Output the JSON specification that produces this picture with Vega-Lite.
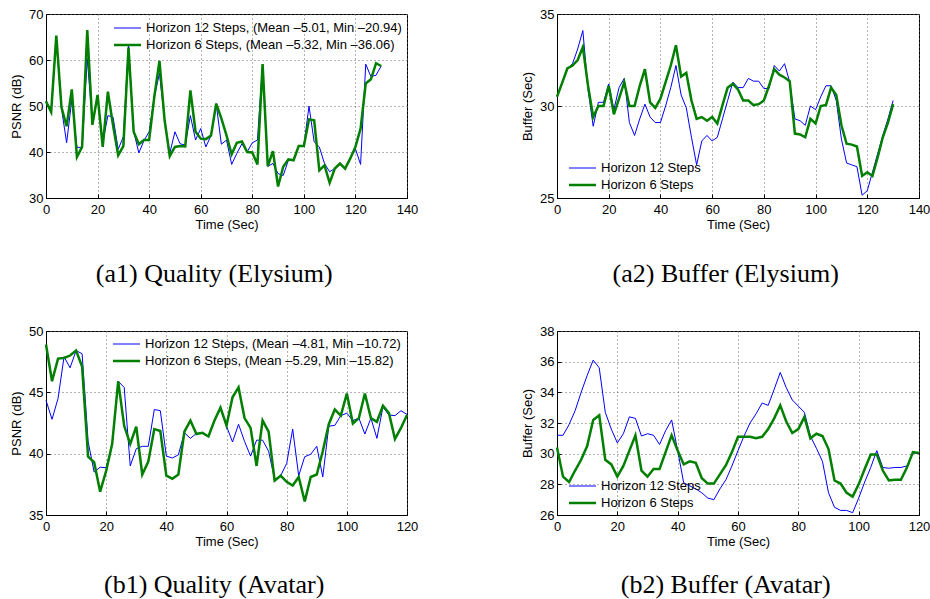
{
  "$schema": "https://vega.github.io/schema/vega-lite/v6.json",
  "padding": {"left": 10, "top": 7, "right": 0, "bottom": 0},
  "background": "white",
  "config": {
    "view": {"stroke": "black", "strokeWidth": 1},
    "axis": {
      "labelFont": "Liberation Sans", "labelFontSize": 13, "labelColor": "black",
      "titleFont": "Liberation Sans", "titleFontSize": 13, "titleFontWeight": "normal", "titleColor": "black",
      "domainColor": "black", "tickColor": "black", "tickSize": -4,
      "grid": true, "gridColor": "#666", "gridDash": [1, 3], "gridWidth": 1,
      "labelFlush": false, "labelOverlap": false
    },
    "axisX": {"labelPadding": 9, "titlePadding": 2},
    "axisY": {"labelPadding": 7, "titlePadding": 5},
    "title": {"font": "Liberation Serif", "fontSize": 26, "fontWeight": "normal", "color": "black"},
    "legend": {"labelFont": "Liberation Sans", "labelFontSize": 13, "labelColor": "black", "labelLimit": 0, "symbolType": "M-3,0H3", "symbolSize": 81, "labelOffset": 12, "rowPadding": 3, "padding": 0}
  },
  "datasets": {
    "a1": [
      {"t":0,"b":51,"g":51},{"t":2,"b":49,"g":48.7},{"t":4,"b":64.5,"g":65.3},{"t":6,"b":49.5,"g":49.7},{"t":8,"b":42,"g":45.6},
      {"t":10,"b":51.3,"g":53.6},{"t":12,"b":41,"g":38.9},{"t":14,"b":41,"g":41.1},{"t":16,"b":60.3,"g":66.5},{"t":18,"b":46.5,"g":45.9},
      {"t":20,"b":52,"g":52.4},{"t":22,"b":42,"g":41.1},{"t":24,"b":47.9,"g":53.1},{"t":26,"b":47.6,"g":45.8},{"t":28,"b":40.6,"g":39.3},
      {"t":30,"b":43.3,"g":41.3},{"t":32,"b":63.4,"g":62.7},{"t":34,"b":44.5,"g":44.4},{"t":36,"b":39.8,"g":41.7},{"t":38,"b":42.5,"g":42.6},
      {"t":40,"b":44.4,"g":42.6},{"t":42,"b":52,"g":52},{"t":44,"b":57.1,"g":59.8},{"t":46,"b":47,"g":46.9},{"t":48,"b":39.7,"g":39.1},
      {"t":50,"b":44.4,"g":41.1},{"t":52,"b":41.8,"g":41.3},{"t":54,"b":41.5,"g":41.2},{"t":56,"b":47.9,"g":53.4},{"t":58,"b":42.6,"g":44.4},
      {"t":60,"b":45.1,"g":42.9},{"t":62,"b":41.1,"g":42.8},{"t":64,"b":43.6,"g":43.6},{"t":66,"b":50.5,"g":50.5},{"t":68,"b":41.7,"g":47.3},
      {"t":70,"b":42.6,"g":43.6},{"t":72,"b":37.3,"g":39.5},{"t":74,"b":39.7,"g":42},{"t":76,"b":41.8,"g":42.3},{"t":78,"b":40,"g":40},
      {"t":80,"b":42,"g":39.9},{"t":82,"b":42.6,"g":37.3},{"t":84,"b":59.1,"g":59.1},{"t":86,"b":36.9,"g":36.9},{"t":88,"b":37.5,"g":40.2},
      {"t":90,"b":35.3,"g":32.5},{"t":92,"b":34.9,"g":36.8},{"t":94,"b":38.2,"g":38.4},{"t":96,"b":38.2,"g":38.2},{"t":98,"b":41.3,"g":41.3},
      {"t":100,"b":41.3,"g":41.3},{"t":102,"b":50,"g":47.1},{"t":104,"b":42.2,"g":46.9},{"t":106,"b":41.1,"g":36},{"t":108,"b":37.5,"g":37.1},
      {"t":110,"b":35.7,"g":33.3},{"t":112,"b":36.4,"g":36.4},{"t":114,"b":37.5,"g":37.5},{"t":116,"b":36.4,"g":36.4},{"t":118,"b":38.6,"g":38.6},
      {"t":120,"b":40.7,"g":41.1},{"t":122,"b":37.3,"g":45.1},{"t":124,"b":59.1,"g":54.9},{"t":126,"b":56.4,"g":55.8},{"t":128,"b":56.7,"g":59.3},
      {"t":130,"b":58.7,"g":58.7}
    ],
    "a2": [
      {"t":0,"b":30.5,"g":30.5},{"t":2,"b":31.3,"g":31.26},{"t":4,"b":32,"g":32.04},{"t":6,"b":32.3,"g":32.2},{"t":8,"b":33.1,"g":32.5},
      {"t":10,"b":34.1,"g":33.2},{"t":12,"b":30.9,"g":31.1},{"t":14,"b":28.9,"g":29.4},{"t":16,"b":30.2,"g":30},{"t":18,"b":30.2,"g":30},
      {"t":20,"b":31.2,"g":31.1},{"t":22,"b":29.8,"g":29.55},{"t":24,"b":31,"g":30.4},{"t":26,"b":31.5,"g":31.3},{"t":28,"b":29.1,"g":30},
      {"t":30,"b":28.4,"g":30},{"t":32,"b":29.3,"g":31.1},{"t":34,"b":30.1,"g":32},{"t":36,"b":29.4,"g":30.2},{"t":38,"b":29.1,"g":29.9},
      {"t":40,"b":29.1,"g":30.4},{"t":42,"b":30,"g":31.3},{"t":44,"b":31,"g":32.2},{"t":46,"b":32.2,"g":33.3},{"t":48,"b":30.6,"g":31.6},
      {"t":50,"b":29.9,"g":31.8},{"t":52,"b":28.3,"g":30.3},{"t":54,"b":26.8,"g":29.3},{"t":56,"b":28.1,"g":29.4},{"t":58,"b":28.4,"g":29.2},
      {"t":60,"b":28.1,"g":29.4},{"t":62,"b":28.3,"g":29.05},{"t":64,"b":29.3,"g":30.05},{"t":66,"b":30.3,"g":31},{"t":68,"b":31.3,"g":31.2},
      {"t":70,"b":31,"g":30.9},{"t":72,"b":31,"g":30.3},{"t":74,"b":31.5,"g":30.3},{"t":76,"b":31.35,"g":30.05},{"t":78,"b":31.35,"g":30.1},
      {"t":80,"b":30.95,"g":30.3},{"t":82,"b":30.95,"g":31.1},{"t":84,"b":32.2,"g":32},{"t":86,"b":31.9,"g":31.7},{"t":88,"b":32.3,"g":31.55},
      {"t":90,"b":31.3,"g":31.35},{"t":92,"b":29.3,"g":28.5},{"t":94,"b":29.2,"g":28.45},{"t":96,"b":28.95,"g":28.3},{"t":98,"b":30,"g":29.3},
      {"t":100,"b":29.8,"g":29.05},{"t":102,"b":30.5,"g":30},{"t":104,"b":31.1,"g":30.05},{"t":106,"b":31.1,"g":31},{"t":108,"b":30.3,"g":30.6},
      {"t":110,"b":28.2,"g":28.95},{"t":112,"b":26.9,"g":27.95},{"t":114,"b":26.8,"g":27.9},{"t":116,"b":26.7,"g":27.8},{"t":118,"b":25.15,"g":26.2},
      {"t":120,"b":25.4,"g":26.4},{"t":122,"b":26.4,"g":26.2},{"t":124,"b":27.4,"g":27.2},{"t":126,"b":28.4,"g":28.3},{"t":128,"b":29.3,"g":29.1},
      {"t":130,"b":30.3,"g":30.1}
    ],
    "b1": [
      {"t":0,"b":44.35,"g":48.9},{"t":2,"b":42.8,"g":45.9},{"t":4,"b":44.5,"g":47.75},{"t":6,"b":47.9,"g":47.8},{"t":8,"b":47,"g":48},
      {"t":10,"b":48.4,"g":48.4},{"t":12,"b":48.15,"g":47.1},{"t":14,"b":41,"g":39.75},{"t":16,"b":38.5,"g":39.3},{"t":18,"b":38.9,"g":36.9},
      {"t":20,"b":38.85,"g":38.6},{"t":22,"b":40.8,"g":40.8},{"t":24,"b":45.9,"g":45.9},{"t":26,"b":45.4,"g":42.25},{"t":28,"b":39,"g":40.8},
      {"t":30,"b":40.4,"g":42.2},{"t":32,"b":40.6,"g":38.3},{"t":34,"b":40.6,"g":39.35},{"t":36,"b":43.6,"g":42},{"t":38,"b":43.5,"g":41.85},
      {"t":40,"b":39.8,"g":38.2},{"t":42,"b":39.65,"g":37.96},{"t":44,"b":39.9,"g":38.3},{"t":46,"b":41.7,"g":41.8},{"t":48,"b":41.25,"g":42.7},
      {"t":50,"b":41.65,"g":41.6},{"t":52,"b":41.7,"g":41.7},{"t":54,"b":41.4,"g":41.4},{"t":56,"b":42.7,"g":42.7},{"t":58,"b":43.75,"g":43.75},
      {"t":60,"b":42.25,"g":42.3},{"t":62,"b":40.95,"g":44.6},{"t":64,"b":42.4,"g":45.4},{"t":66,"b":41,"g":42.9},{"t":68,"b":39.8,"g":42.1},
      {"t":70,"b":41.1,"g":39},{"t":72,"b":41.1,"g":42.7},{"t":74,"b":40.2,"g":41.8},{"t":76,"b":37.9,"g":37.8},{"t":78,"b":38.2,"g":38.2},
      {"t":80,"b":39.2,"g":37.7},{"t":82,"b":42,"g":37.4},{"t":84,"b":38.2,"g":38.1},{"t":86,"b":39.75,"g":36.1},{"t":88,"b":39.95,"g":38.1},
      {"t":90,"b":40.6,"g":38.3},{"t":92,"b":38.1,"g":40.2},{"t":94,"b":42.25,"g":42.4},{"t":96,"b":42.3,"g":43.6},{"t":98,"b":43.1,"g":43.1},
      {"t":100,"b":43.3,"g":44.9},{"t":102,"b":42.7,"g":42.45},{"t":104,"b":42.9,"g":42.9},{"t":106,"b":41.6,"g":44.9},{"t":108,"b":42.9,"g":42.9},
      {"t":110,"b":41.25,"g":42.6},{"t":112,"b":43.8,"g":43.9},{"t":114,"b":43.15,"g":43.3},{"t":116,"b":43.1,"g":41.2},{"t":118,"b":43.5,"g":42.1},
      {"t":120,"b":43.2,"g":43.15}
    ],
    "b2": [
      {"t":0,"b":31.2,"g":30.4},{"t":2,"b":31.2,"g":28.5},{"t":4,"b":31.9,"g":28.15},{"t":6,"b":32.8,"g":28.9},{"t":8,"b":34,"g":29.6},
      {"t":10,"b":35.1,"g":30.5},{"t":12,"b":36.1,"g":32.2},{"t":14,"b":35.6,"g":32.5},{"t":16,"b":32.7,"g":29.6},{"t":18,"b":31.6,"g":29.3},
      {"t":20,"b":30.7,"g":28.5},{"t":22,"b":31.3,"g":29.2},{"t":24,"b":32.4,"g":30.2},{"t":26,"b":32.3,"g":31.2},{"t":28,"b":31.15,"g":28.9},
      {"t":30,"b":31.3,"g":28.5},{"t":32,"b":31.2,"g":29},{"t":34,"b":30.6,"g":29},{"t":36,"b":31.5,"g":30.1},{"t":38,"b":32.2,"g":31.2},
      {"t":40,"b":30.2,"g":30.2},{"t":42,"b":28.1,"g":29.3},{"t":44,"b":27.9,"g":29.5},{"t":46,"b":27.7,"g":29.4},{"t":48,"b":27.45,"g":28.4},
      {"t":50,"b":27.1,"g":28.05},{"t":52,"b":27,"g":28.05},{"t":54,"b":27.7,"g":28.65},{"t":56,"b":28.3,"g":29.25},{"t":58,"b":29.2,"g":30.1},
      {"t":60,"b":30.2,"g":31.1},{"t":62,"b":31.15,"g":31.1},{"t":64,"b":32,"g":31.1},{"t":66,"b":32.6,"g":31},{"t":68,"b":33.3,"g":31.1},
      {"t":70,"b":33.15,"g":31.6},{"t":72,"b":34.2,"g":32.3},{"t":74,"b":35.3,"g":33.15},{"t":76,"b":34.3,"g":32.1},{"t":78,"b":33.5,"g":31.35},
      {"t":80,"b":33.1,"g":31.6},{"t":82,"b":32.7,"g":32.4},{"t":84,"b":31.15,"g":31},{"t":86,"b":30.35,"g":31.3},{"t":88,"b":29.5,"g":31.15},
      {"t":90,"b":27.45,"g":30.3},{"t":92,"b":26.5,"g":28.25},{"t":94,"b":26.3,"g":28.05},{"t":96,"b":26.3,"g":27.45},{"t":98,"b":26.15,"g":27.2},
      {"t":100,"b":27.1,"g":28},{"t":102,"b":28.15,"g":29},{"t":104,"b":29.1,"g":29.95},{"t":106,"b":30.2,"g":29.95},{"t":108,"b":29.1,"g":28.9},
      {"t":110,"b":29.05,"g":28.25},{"t":112,"b":29.1,"g":28.3},{"t":114,"b":29.1,"g":28.3},{"t":116,"b":29.2,"g":29.1},{"t":118,"b":30.05,"g":30.1},
      {"t":120,"b":30,"g":30.05}
    ]
  },
  "spacing": 36,
  "resolve": {"scale": {"color": "independent", "strokeWidth": "independent"}, "legend": {"color": "independent", "strokeWidth": "independent"}},
  "vconcat": [
    {
      "spacing": 102,
      "resolve": {"scale": {"color": "independent", "strokeWidth": "independent"}, "legend": {"color": "independent", "strokeWidth": "independent"}},
      "hconcat": [
        {
          "width": 361, "height": 184,
          "title": {"text": "(a1) Quality (Elysium)", "orient": "bottom", "offset": 30, "frame": "bounds"},
          "data": {"name": "a1"},
          "transform": [{"fold": ["b", "g"], "as": ["k", "v"]}],
          "mark": {"type": "line"},
          "encoding": {
            "x": {"field": "t", "type": "quantitative", "scale": {"domain": [0, 140], "nice": false}, "axis": {"title": "Time (Sec)", "values": [0, 20, 40, 60, 80, 100, 120, 140]}},
            "y": {"field": "v", "type": "quantitative", "scale": {"domain": [30, 70], "nice": false, "zero": false}, "axis": {"title": "PSNR (dB)", "values": [30, 40, 50, 60, 70]}},
            "color": {"field": "k", "type": "nominal", "scale": {"domain": ["b", "g"], "range": ["#0000ff", "#007f00"]},
              "legend": {"orient": "none", "legendX": 75, "legendY": 7.5, "title": null, "labelExpr": "datum.value == 'b' ? 'Horizon 12 Steps, (Mean –5.01, Min –20.94)' : 'Horizon 6 Steps, (Mean –5.32, Min –36.06)'"}},
            "strokeWidth": {"field": "k", "type": "nominal", "scale": {"domain": ["b", "g"], "range": [1, 2.5]},
              "legend": {"orient": "none", "legendX": 75, "legendY": 7.5, "title": null, "labelExpr": "datum.value == 'b' ? 'Horizon 12 Steps, (Mean –5.01, Min –20.94)' : 'Horizon 6 Steps, (Mean –5.32, Min –36.06)'"}}
          }
        },
        {
          "width": 362, "height": 184,
          "title": {"text": "(a2) Buffer (Elysium)", "orient": "bottom", "offset": 30, "frame": "bounds"},
          "data": {"name": "a2"},
          "transform": [{"fold": ["b", "g"], "as": ["k", "v"]}],
          "mark": {"type": "line"},
          "encoding": {
            "x": {"field": "t", "type": "quantitative", "scale": {"domain": [0, 140], "nice": false}, "axis": {"title": "Time (Sec)", "values": [0, 20, 40, 60, 80, 100, 120, 140]}},
            "y": {"field": "v", "type": "quantitative", "scale": {"domain": [25, 35], "nice": false, "zero": false}, "axis": {"title": "Buffer (Sec)", "values": [25, 30, 35]}},
            "color": {"field": "k", "type": "nominal", "scale": {"domain": ["b", "g"], "range": ["#0000ff", "#007f00"]},
              "legend": {"orient": "none", "legendX": 19, "legendY": 147.5, "title": null, "labelExpr": "datum.value == 'b' ? 'Horizon 12 Steps' : 'Horizon 6 Steps'"}},
            "strokeWidth": {"field": "k", "type": "nominal", "scale": {"domain": ["b", "g"], "range": [1, 2.5]},
              "legend": {"orient": "none", "legendX": 19, "legendY": 147.5, "title": null, "labelExpr": "datum.value == 'b' ? 'Horizon 12 Steps' : 'Horizon 6 Steps'"}}
          }
        }
      ]
    },
    {
      "spacing": 102,
      "resolve": {"scale": {"color": "independent", "strokeWidth": "independent"}, "legend": {"color": "independent", "strokeWidth": "independent"}},
      "hconcat": [
        {
          "width": 361, "height": 184,
          "title": {"text": "(b1) Quality (Avatar)", "orient": "bottom", "offset": 24, "frame": "bounds"},
          "data": {"name": "b1"},
          "transform": [{"fold": ["b", "g"], "as": ["k", "v"]}],
          "mark": {"type": "line"},
          "encoding": {
            "x": {"field": "t", "type": "quantitative", "scale": {"domain": [0, 120], "nice": false}, "axis": {"title": "Time (Sec)", "values": [0, 20, 40, 60, 80, 100, 120]}},
            "y": {"field": "v", "type": "quantitative", "scale": {"domain": [35, 50], "nice": false, "zero": false}, "axis": {"title": "PSNR (dB)", "values": [35, 40, 45, 50]}},
            "color": {"field": "k", "type": "nominal", "scale": {"domain": ["b", "g"], "range": ["#0000ff", "#007f00"]},
              "legend": {"orient": "none", "legendX": 74, "legendY": 6.5, "title": null, "labelExpr": "datum.value == 'b' ? 'Horizon 12 Steps, (Mean –4.81, Min –10.72)' : 'Horizon 6 Steps, (Mean –5.29, Min –15.82)'"}},
            "strokeWidth": {"field": "k", "type": "nominal", "scale": {"domain": ["b", "g"], "range": [1, 2.5]},
              "legend": {"orient": "none", "legendX": 74, "legendY": 6.5, "title": null, "labelExpr": "datum.value == 'b' ? 'Horizon 12 Steps, (Mean –4.81, Min –10.72)' : 'Horizon 6 Steps, (Mean –5.29, Min –15.82)'"}}
          }
        },
        {
          "width": 362, "height": 184,
          "title": {"text": "(b2) Buffer (Avatar)", "orient": "bottom", "offset": 24, "frame": "bounds"},
          "data": {"name": "b2"},
          "transform": [{"fold": ["b", "g"], "as": ["k", "v"]}],
          "mark": {"type": "line"},
          "encoding": {
            "x": {"field": "t", "type": "quantitative", "scale": {"domain": [0, 120], "nice": false}, "axis": {"title": "Time (Sec)", "values": [0, 20, 40, 60, 80, 100, 120]}},
            "y": {"field": "v", "type": "quantitative", "scale": {"domain": [26, 38], "nice": false, "zero": false}, "axis": {"title": "Buffer (Sec)", "values": [26, 28, 30, 32, 34, 36, 38]}},
            "color": {"field": "k", "type": "nominal", "scale": {"domain": ["b", "g"], "range": ["#0000ff", "#007f00"]},
              "legend": {"orient": "none", "legendX": 19, "legendY": 148.5, "title": null, "labelExpr": "datum.value == 'b' ? 'Horizon 12 Steps' : 'Horizon 6 Steps'"}},
            "strokeWidth": {"field": "k", "type": "nominal", "scale": {"domain": ["b", "g"], "range": [1, 2.5]},
              "legend": {"orient": "none", "legendX": 19, "legendY": 148.5, "title": null, "labelExpr": "datum.value == 'b' ? 'Horizon 12 Steps' : 'Horizon 6 Steps'"}}
          }
        }
      ]
    }
  ]
}
